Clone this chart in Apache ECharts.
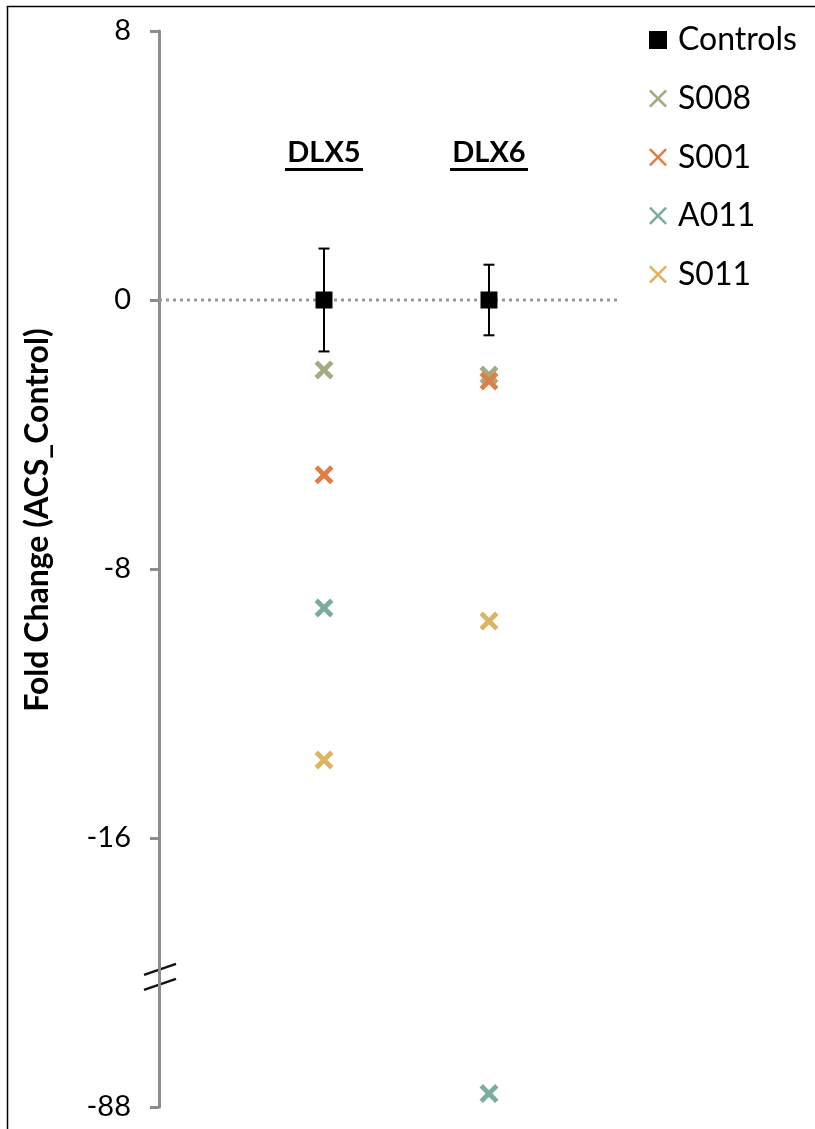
<!DOCTYPE html>
<html>
<head>
<meta charset="utf-8">
<script src="https://cdn.jsdelivr.net/npm/echarts@6/dist/echarts.min.js"></script>
<style>
  html, body { margin: 0; padding: 0; background: #fff; }
  #main { width: 815px; height: 1129px; }
</style>
</head>
<body>
<div id="main"></div>
<script>
// genes on the x axis (x position 1 and 2)
var genes = ['DLX5', 'DLX6'];
var genePos = [1, 2];

// controls mean and error
var controlMean = [0, 0];
var controlErr = [1.53, 1.05];

// patient fold changes, per gene
var s008 = [-2.08, -2.23];
var s001 = [-5.2, -2.41];
var a011 = [-9.16, -87.6];
var s011 = [-13.68, -9.55];

// y tick values and labels (axis broken between -16 and -88)
var yTicks = [8, 0, -8, -16, -24];
var yTickLabels = ['8', '0', '-8', '-16', '-88'];

var colors = {
  Controls: '#000000',
  S008: '#A4AB82',
  S001: '#E07E47',
  A011: '#7BAC9F',
  S011: '#DDB461'
};

// values below the break are shifted up to sit just under -16
function brk(v) {
  return v < -16 ? v + 64 : v;
}

function pts(arr) {
  return arr.map(function(v, i) { return [genePos[i], brk(v)]; });
}

var bigX = 'path://M0,1.8 L1.8,0 L5,3.2 L8.2,0 L10,1.8 L6.8,5 L10,8.2 L8.2,10 L5,6.8 L1.8,10 L0,8.2 L3.2,5 Z';
var thinX = 'path://M0,1 L1,0 L5,4 L9,0 L10,1 L6,5 L10,9 L9,10 L5,6 L1,10 L0,9 L4,5 Z';

var chart = echarts.init(document.getElementById('main'));

function crossSeries(name, arr) {
  return {
    name: name,
    type: 'scatter',
    symbol: bigX,
    symbolSize: 19,
    itemStyle: { color: colors[name], opacity: 1 },
    data: pts(arr),
    z: 3
  };
}

var option = {
  animation: false,
  backgroundColor: '#fff',
  textStyle: { fontFamily: 'Lato' },
  grid: { left: 159, top: 31, bottom: 22, right: 194 },
  xAxis: {
    type: 'value',
    min: 0,
    max: 2.8,
    show: false
  },
  yAxis: {
    type: 'value',
    min: -24,
    max: 8,
    interval: 8,
    axisLine: { show: true, lineStyle: { color: '#8c8c8c', width: 3 } },
    axisTick: { show: true, length: 9, lineStyle: { color: '#8c8c8c', width: 3 } },
    splitLine: { show: false },
    axisLabel: {
      color: '#000',
      fontSize: 29,
      fontFamily: 'Lato',
      margin: 28,
      formatter: function(v) {
        var i = yTicks.indexOf(v);
        return i >= 0 ? yTickLabels[i] : '';
      }
    }
  },
  legend: {
    orient: 'vertical',
    left: 649,
    top: 23,
    padding: 0,
    itemWidth: 18,
    itemHeight: 18,
    itemGap: 24.6,
    textStyle: { fontSize: 32, fontFamily: 'Lato', color: '#000', lineHeight: 34, padding: [0, 0, 0, 6] },
    data: [
      { name: 'Controls', icon: 'rect' },
      { name: 'S008', icon: thinX },
      { name: 'S001', icon: thinX },
      { name: 'A011', icon: thinX },
      { name: 'S011', icon: thinX }
    ]
  },
  series: [
    {
      name: 'zero',
      type: 'line',
      data: [[0, 0], [2.8, 0]],
      symbol: 'none',
      lineStyle: { color: '#999', width: 3, type: [3, 4] },
      silent: true,
      z: 1
    },
    {
      name: 'err',
      type: 'custom',
      data: genePos.map(function(x, i) {
        return [x, controlMean[i] - controlErr[i], controlMean[i] + controlErr[i]];
      }),
      renderItem: function(params, api) {
        var lo = api.coord([api.value(0), api.value(1)]);
        var hi = api.coord([api.value(0), api.value(2)]);
        var w = 5.5;
        var st = { stroke: '#000', lineWidth: 2 };
        return {
          type: 'group',
          children: [
            { type: 'line', shape: { x1: lo[0], y1: lo[1], x2: hi[0], y2: hi[1] }, style: st },
            { type: 'line', shape: { x1: lo[0] - w, y1: lo[1], x2: lo[0] + w, y2: lo[1] }, style: st },
            { type: 'line', shape: { x1: hi[0] - w, y1: hi[1], x2: hi[0] + w, y2: hi[1] }, style: st }
          ]
        };
      },
      z: 2
    },
    {
      name: 'Controls',
      type: 'scatter',
      symbol: 'rect',
      symbolSize: 17,
      itemStyle: { color: colors.Controls, opacity: 1 },
      data: pts(controlMean),
      z: 4
    },
    crossSeries('S008', s008),
    crossSeries('S001', s001),
    crossSeries('A011', a011),
    crossSeries('S011', s011)
  ]
};

chart.setOption(option);

// decorations: frame, axis title, gene labels, break marks
var g = [];
g.push({
  type: 'rect',
  shape: { x: 7.5, y: 6.5, width: 830, height: 1140 },
  style: { fill: 'none', stroke: '#000', lineWidth: 1.5 },
  silent: true
});
g.push({
  type: 'text',
  x: 38,
  y: 520,
  rotation: Math.PI / 2,
  style: {
    text: 'Fold Change (ACS_Control)',
    fontSize: 32,
    fontWeight: 'bold',
    fontFamily: 'Lato',
    fill: '#000',
    align: 'center',
    verticalAlign: 'middle'
  }
});
genes.forEach(function(name, i) {
  var p = chart.convertToPixel({ gridIndex: 0 }, [genePos[i], 0]);
  g.push({
    type: 'text',
    x: p[0],
    y: 153,
    style: {
      text: name,
      fontSize: 29,
      fontWeight: 'bold',
      fontFamily: 'Lato',
      fill: '#000',
      align: 'center',
      verticalAlign: 'middle'
    }
  });
  g.push({
    type: 'rect',
    shape: { x: p[0] - 39, y: 168, width: 78, height: 3 },
    style: { fill: '#000' }
  });
});
var bp = chart.convertToPixel({ gridIndex: 0 }, [0, -20.1]);
[-7, 8].forEach(function(d) {
  g.push({
    type: 'line',
    shape: { x1: bp[0] - 15, y1: bp[1] + d + 6, x2: bp[0] + 17, y2: bp[1] + d - 5 },
    style: { stroke: '#111', lineWidth: 2.5 }
  });
});
chart.setOption({ graphic: g });
</script>
</body>
</html>
